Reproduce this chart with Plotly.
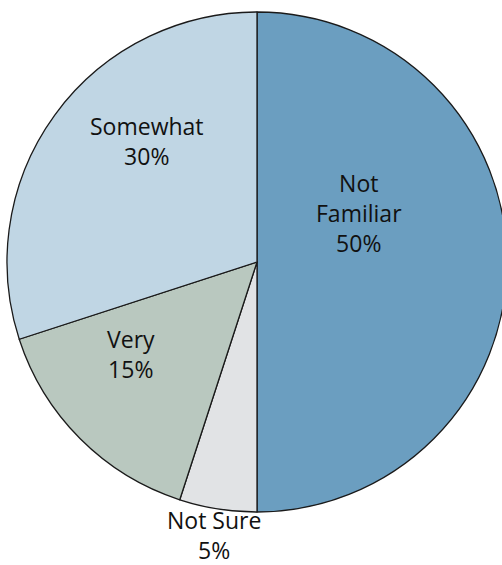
import plotly.graph_objects as go

labels = ["Not Familiar", "Not Sure", "Very", "Somewhat"]
label_lines = ["Not<br>Familiar", "Not Sure", "Very", "Somewhat"]
values = [50, 5, 15, 30]
colors = ["#6b9ec0", "#e1e3e5", "#b9c8bf", "#c0d6e4"]
# label centres in pixels (x from left, y from top)
label_px = [(359, 213), (214, 535), (131, 354), (147, 141)]

W, H = 512, 565

fig = go.Figure(go.Pie(
    labels=labels,
    values=values,
    sort=False,
    direction="clockwise",
    rotation=0,
    marker=dict(colors=colors, line=dict(color="#1a1a1a", width=1.3)),
    textinfo="none",
    showlegend=False,
    hoverinfo="skip",
    domain=dict(x=[7 / W, 507 / W], y=[(H - 512) / H, (H - 12) / H]),
))

total = sum(values)
for txt, v, (px, py) in zip(label_lines, values, label_px):
    fig.add_annotation(
        x=px / W, y=1 - py / H, xref="paper", yref="paper",
        text=f"{txt}<br>{round(100 * v / total)}%",
        showarrow=False, xanchor="center", yanchor="middle", align="center",
        font=dict(family="Open Sans", size=23, color="#111111"),
    )

fig.update_layout(
    width=W, height=H,
    margin=dict(l=0, r=0, t=0, b=0),
    paper_bgcolor="white",
    plot_bgcolor="white",
)

fig.write_html("out.html", post_script="document.body.style.overflow='hidden';document.documentElement.style.overflow='hidden';")
